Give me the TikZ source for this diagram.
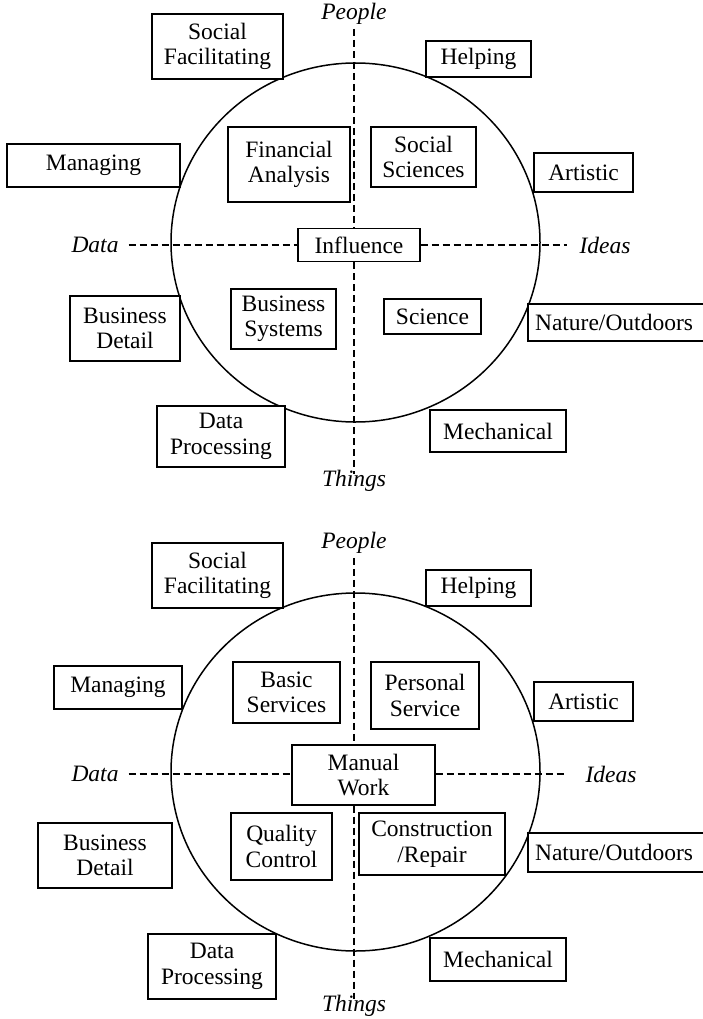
\documentclass[tikz,border=0pt]{standalone}
\usepackage{fontspec}
\setmainfont{Liberation Serif}
\begin{document}
\begin{tikzpicture}[x=1pt,y=-1pt,
  every node/.style={font=\fontsize{23.5}{25.5}\selectfont, inner sep=0pt},
  box/.style={draw, fill=white, line width=1.4pt, align=center},
  axislabel/.style={font=\fontsize{23.5}{25.5}\selectfont\itshape},
  axis/.style={line width=1.3pt, dash pattern=on 7pt off 4pt},
  ring/.style={line width=1.5pt}]
\useasboundingbox[fill=white] (0,0) rectangle (703,1019);

% ---------- upper wheel ----------
\begin{scope}
\node[axislabel] (p1) at (354,14) {People};
\node[axislabel] (t1) at (354,481) {Things};
\node[axislabel] (d1) at (95,245) {Data};
\node[axislabel] (i1) at (605,245) {Ideas};
\draw[ring] (355.5,242.5) ellipse [x radius=184.5, y radius=179.5];
\node[box, minimum width=122pt, minimum height=33pt] (infl) at (359,245) {Influence};
\draw[axis] (p1.south -| 354,0) ++(0,4) -- (infl.north -| 354,0);
\draw[axis] (infl.south -| 354,0) -- ([yshift=-4pt]t1.north -| 354,0);
\draw[axis] ([xshift=10pt]d1.east) -- (infl.west);
\draw[axis] (infl.east) -- ([xshift=-12pt]i1.west);

\node[box, minimum width=131pt, minimum height=65pt] (sf1) at (217.5,46.5) {Social\\Facilitating};
\node[box, minimum width=173pt, minimum height=43pt] (mg1) at (93.5,165.5) {Managing};
\node[box, minimum width=122pt, minimum height=75pt] (fa1) at (289,164.5) {Financial\\Analysis};
\node[box, minimum width=105pt, minimum height=36pt] (hp1) at (478.5,59) {Helping};
\node[box, minimum width=105pt, minimum height=60pt] (ss1) at (423.5,157) {Social\\Sciences};
\node[box, minimum width=99pt, minimum height=39pt] (ar1) at (583.5,172.5) {Artistic};
\node[box, minimum width=110pt, minimum height=65pt] (bd1) at (125,328.5) {Business\\Detail};
\node[box, minimum width=105pt, minimum height=60pt] (bs1) at (283.5,319) {Business\\Systems};
\node[box, minimum width=128pt, minimum height=61pt] (dp1) at (221,436.5) {Data\\Processing};
\node[box, minimum width=97pt, minimum height=35pt] (sc1) at (432.5,316.5) {Science};
\node[box, minimum width=176pt, minimum height=37pt] (no1) at (616,322.5) {\hspace*{-4pt}Nature/Outdoors};
\node[box, minimum width=136pt, minimum height=42pt] (me1) at (498,431) {Mechanical};
\end{scope}

% ---------- lower wheel ----------
\begin{scope}
\node[axislabel] (p2) at (354,543) {People};
\node[axislabel] (t2) at (354,1006) {Things};
\node[axislabel] (d2) at (95,774) {Data};
\node[axislabel] (i2) at (611,774) {Ideas};
\draw[ring] (355.5,772) ellipse [x radius=184.5, y radius=179];
\node[box, minimum width=143pt, minimum height=60pt] (mw2) at (363.5,775) {Manual\\Work};
\draw[axis] (p2.south -| 354,0) ++(0,4) -- (mw2.north -| 354,0);
\draw[axis] (mw2.south -| 354,0) -- ([yshift=-4pt]t2.north -| 354,0);
\draw[axis] ([xshift=10pt]d2.east) -- (mw2.west |- d2);
\draw[axis] (mw2.east |- i2) -- ([xshift=-18pt]i2.west);

\node[box, minimum width=131pt, minimum height=65pt] (sf2) at (217.5,575.5) {Social\\Facilitating};
\node[box, minimum width=128pt, minimum height=43pt] (mg2) at (118,687.5) {Managing};
\node[box, minimum width=107pt, minimum height=61pt] (bv2) at (286.5,692.5) {Basic\\Services};
\node[box, minimum width=105pt, minimum height=36pt] (hp2) at (478.5,588) {Helping};
\node[box, minimum width=108pt, minimum height=67pt] (ps2) at (425,695.5) {Personal\\Service};
\node[box, minimum width=99pt, minimum height=39pt] (ar2) at (583.5,701.5) {Artistic};
\node[box, minimum width=134pt, minimum height=65pt] (bd2) at (105,855.5) {Business\\Detail};
\node[box, minimum width=101pt, minimum height=67pt] (qc2) at (281.5,846.5) {Quality\\Control};
\node[box, minimum width=146pt, minimum height=62pt] (cr2) at (432,844) {Construction\\/Repair};
\node[box, minimum width=176pt, minimum height=39pt] (no2) at (616,852.5) {\hspace*{-4pt}Nature/Outdoors};
\node[box, minimum width=128pt, minimum height=65pt] (dp2) at (212,966.5) {Data\\Processing};
\node[box, minimum width=136pt, minimum height=43pt] (me2) at (498,959.5) {Mechanical};
\end{scope}
\end{tikzpicture}
\end{document}
